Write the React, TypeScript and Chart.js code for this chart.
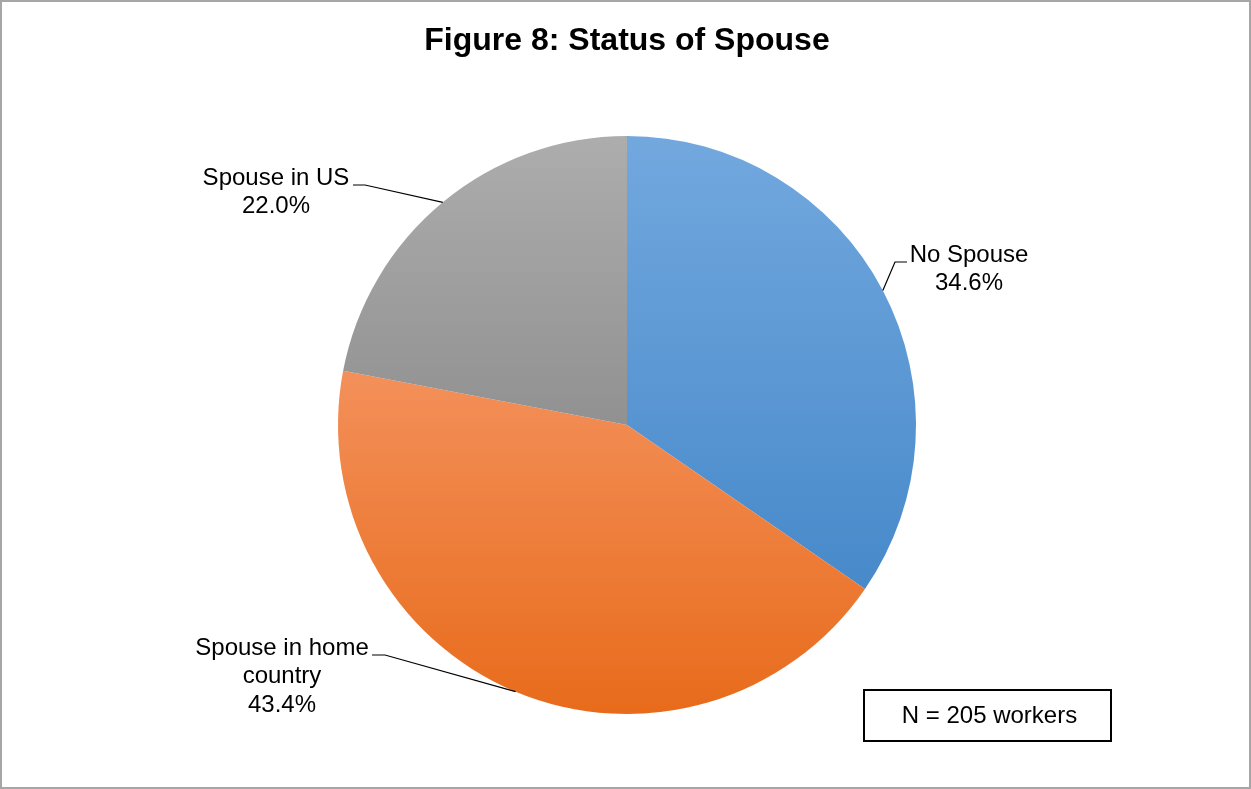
import React, { useEffect, useRef } from "react";
import { Chart, registerables } from "chart.js";

Chart.register(...registerables);

const TITLE = "Figure 8: Status of Spouse";
const categories = ["No Spouse", "Spouse in home country", "Spouse in US"];
const labelLines = [["No Spouse"], ["Spouse in home", "country"], ["Spouse in US"]];
const values = [34.6, 43.4, 22.0];
const NOTE = "N = 205 workers";

const gradTop = ["#72a8de", "#f3905a", "#adadad"];
const gradBottom = ["#4789ca", "#e86b1b", "#919191"];

// label text anchors (center x, first line y) and leader elbow
const labelLayout = [
  { x: 969, y: 255, elbowX: 895, elbowY: 262, hx: 907 },
  { x: 282, y: 648, elbowX: 385, elbowY: 655, hx: 372 },
  { x: 276, y: 178, elbowX: 365, elbowY: 185, hx: 353 },
];

const FONT = "'Liberation Sans', Arial, sans-serif";

function sliceYRange(chart: any, index: number) {
  const area = chart.chartArea;
  if (!area) return null;
  const cx = (area.left + area.right) / 2;
  const cy = (area.top + area.bottom) / 2;
  const r = Math.min(area.right - area.left, area.bottom - area.top) / 2;
  const total = values.reduce((a, b) => a + b, 0);
  let start = 0;
  for (let i = 0; i < index; i++) start += values[i];
  const a0 = -Math.PI / 2 + (start / total) * 2 * Math.PI;
  const a1 = a0 + (values[index] / total) * 2 * Math.PI;
  let minY = cy, maxY = cy;
  for (let k = 0; k <= 200; k++) {
    const a = a0 + ((a1 - a0) * k) / 200;
    const y = cy + r * Math.sin(a);
    minY = Math.min(minY, y);
    maxY = Math.max(maxY, y);
  }
  return { minY, maxY };
}

const decorPlugin = {
  id: "decor",
  beforeDraw(chart: any) {
    const ctx = chart.ctx;
    ctx.save();
    ctx.fillStyle = "#ffffff";
    ctx.fillRect(0, 0, chart.width, chart.height);
    ctx.restore();
  },
  afterDraw(chart: any) {
    const ctx = chart.ctx;
    ctx.save();
    // frame
    ctx.strokeStyle = "#a6a6a6";
    ctx.lineWidth = 2;
    ctx.strokeRect(1, 1, chart.width - 2, chart.height - 2);

    // title
    ctx.fillStyle = "#000";
    ctx.font = `bold 32px ${FONT}`;
    ctx.textAlign = "center";
    ctx.textBaseline = "middle";
    ctx.fillText(TITLE, 627, 41);

    // labels with leader lines
    const meta = chart.getDatasetMeta(0);
    const total = values.reduce((a, b) => a + b, 0);
    meta.data.forEach((arc: any, i: number) => {
      const { x, y, startAngle, endAngle, outerRadius } = arc.getProps(
        ["x", "y", "startAngle", "endAngle", "outerRadius"],
        true
      );
      const mid = (startAngle + endAngle) / 2;
      const ex = x + outerRadius * Math.cos(mid);
      const ey = y + outerRadius * Math.sin(mid);
      const L = labelLayout[i];
      ctx.strokeStyle = "#000";
      ctx.lineWidth = 1.2;
      ctx.beginPath();
      ctx.moveTo(L.hx, L.elbowY);
      ctx.lineTo(L.elbowX, L.elbowY);
      ctx.lineTo(ex, ey);
      ctx.stroke();

      ctx.font = `24px ${FONT}`;
      ctx.fillStyle = "#000";
      ctx.textAlign = "center";
      ctx.textBaseline = "middle";
      const lines = [...labelLines[i], `${((values[i] / total) * 100).toFixed(1)}%`];
      lines.forEach((t, k) => ctx.fillText(t, L.x, L.y + k * 28.5));
    });

    // note box
    ctx.strokeStyle = "#000";
    ctx.lineWidth = 2;
    ctx.strokeRect(864, 690, 247, 51);
    ctx.font = `24px ${FONT}`;
    ctx.fillStyle = "#000";
    ctx.textAlign = "center";
    ctx.textBaseline = "middle";
    ctx.fillText(NOTE, 989.5, 716);
    ctx.restore();
  },
};

export default function App() {
  const ref = useRef<HTMLCanvasElement | null>(null);
  useEffect(() => {
    document.body.style.margin = "0";
    const canvas = ref.current!;
    const chart = new Chart(canvas, {
      type: "pie",
      data: {
        labels: categories,
        datasets: [
          {
            data: values,
            borderWidth: 0,
            backgroundColor: (c: any) => {
              const chartObj = c.chart;
              const i = c.dataIndex;
              if (i === undefined) return gradTop[0];
              const rng = sliceYRange(chartObj, i);
              if (!rng) return gradTop[i];
              const g = chartObj.ctx.createLinearGradient(0, rng.minY, 0, rng.maxY);
              g.addColorStop(0, gradTop[i]);
              g.addColorStop(1, gradBottom[i]);
              return g;
            },
          },
        ],
      },
      options: {
        responsive: false,
        animation: false,
        devicePixelRatio: 1,
        layout: { padding: { left: 338, right: 335, top: 136, bottom: 75 } },
        plugins: {
          legend: { display: false },
          tooltip: { enabled: false },
          title: { display: false },
        },
      },
      plugins: [decorPlugin],
    });
    return () => chart.destroy();
  }, []);
  return (
    <div style={{ position: "fixed", left: 0, top: 0, width: 1251, height: 789, background: "#fff" }}>
      <canvas ref={ref} width={1251} height={789} style={{ display: "block" }} />
    </div>
  );
}
